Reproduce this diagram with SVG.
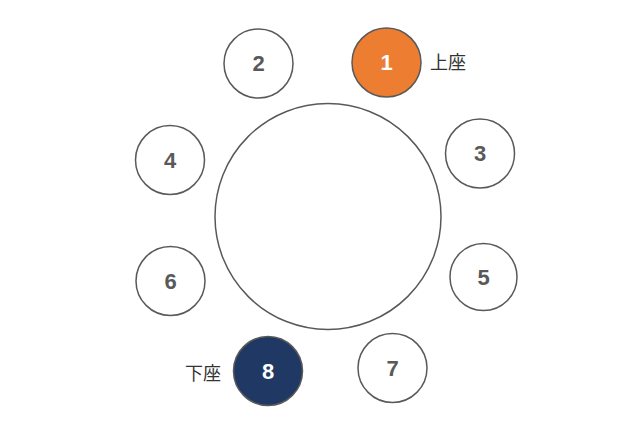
<svg xmlns="http://www.w3.org/2000/svg" width="640" height="427" viewBox="0 0 640 427">
<style>
.seat{fill:#fff;stroke:#595959;stroke-width:1.5}
.num{font-family:"Liberation Sans",Arial,sans-serif;font-weight:bold;font-size:22px;fill:#595959;text-anchor:middle;dominant-baseline:central}
.wnum{fill:#fff}
.lbl{font-family:"Noto Sans CJK JP","Noto Sans CJK SC",sans-serif;font-size:18px;fill:#333;dominant-baseline:central}
</style>
<rect width="640" height="427" fill="#fff"/>
<g id="table"><circle cx="328" cy="216.5" r="113" class="seat"/></g>
<g id="seat1"><circle cx="386.5" cy="62.5" r="34.5" class="seat" style="fill:#ED7D31"/><text x="386.5" y="62.5" class="num wnum">1</text><text x="430" y="61" class="lbl">上座</text></g>
<g id="seat2"><circle cx="258.5" cy="63.5" r="34.5" class="seat"/><text x="258.5" y="63.5" class="num">2</text></g>
<g id="seat3"><circle cx="480" cy="153.5" r="34.5" class="seat"/><text x="480" y="153.5" class="num">3</text></g>
<g id="seat4"><circle cx="170" cy="160" r="34.5" class="seat"/><text x="170" y="160" class="num">4</text></g>
<g id="seat5"><circle cx="483.5" cy="277" r="33.5" class="seat"/><text x="483.5" y="277" class="num">5</text></g>
<g id="seat6"><circle cx="170.5" cy="281" r="34.5" class="seat"/><text x="170.5" y="281" class="num">6</text></g>
<g id="seat7"><circle cx="392.5" cy="368" r="34.5" class="seat"/><text x="392.5" y="368" class="num">7</text></g>
<g id="seat8"><circle cx="268" cy="371" r="34.5" class="seat" style="fill:#1F3864"/><text x="268" y="371" class="num wnum">8</text><text x="185" y="372" class="lbl">下座</text></g>
<g id="connectors"></g>
</svg>
